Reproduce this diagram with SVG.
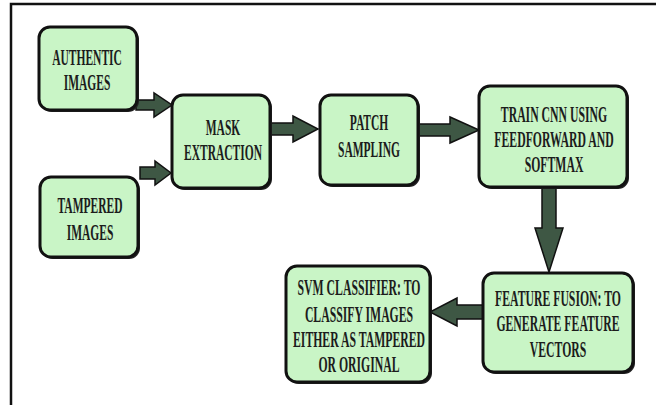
<svg xmlns="http://www.w3.org/2000/svg" width="656" height="405" viewBox="0 0 656 405">
  <defs>
    <style>
      .box { fill: #c9f5c6; stroke: #111; stroke-width: 3; }
      .shadow { fill: #222; }
      .arrow { fill: #3e5744; stroke: #111; stroke-width: 1.5; stroke-linejoin: miter; }
      .lbl { font-family: "Liberation Serif", "Times New Roman", serif; font-weight: bold; font-size: 24px; fill: #1c1c1c; text-anchor: middle; }
      .frame { stroke: #111; stroke-width: 2.5; fill: none; }
    </style>
  </defs>
  <rect width="656" height="405" fill="#ffffff"/>

  <!-- page frame (top and left rules) -->
  <path class="frame" d="M11,405 V4 H656"/>

  <!-- connectors: block arrows -->
  <g id="connectors">
    <polygon class="arrow" points="136,100 154,100 154,93 172,105 154,117 154,110 136,110"/>
    <polygon class="arrow" points="140,167 155,167 155,161 171,173 155,185 155,179 140,179"/>
    <polygon class="arrow" points="270,123 293,123 293,116 318,129 293,142 293,135 270,135"/>
    <polygon class="arrow" points="418,124 450,124 450,117 479,130 450,143 450,136 418,136"/>
    <polygon class="arrow" points="542,187 556,187 556,228 563,228 549,272 535,228 542,228"/>
    <polygon class="arrow" points="483,305 457,305 457,298 430,312 457,326 457,319 483,319"/>
  </g>

  <!-- labels use a condensed bold serif: glyphs squeezed horizontally -->
  <g id="authentic">
    <rect class="shadow" x="41" y="29" width="98" height="83" rx="11"/>
    <rect class="box" x="39" y="27" width="98" height="83" rx="11"/>
    <g transform="translate(87,0) scale(0.48,1)">
      <text class="lbl" x="0" y="65">AUTHENTIC</text>
      <text class="lbl" x="0" y="90">IMAGES</text>
    </g>
  </g>

  <g id="tampered">
    <rect class="shadow" x="42" y="179" width="98" height="80" rx="11"/>
    <rect class="box" x="40" y="177" width="98" height="80" rx="11"/>
    <g transform="translate(90,0) scale(0.48,1)">
      <text class="lbl" x="0" y="213">TAMPERED</text>
      <text class="lbl" x="0" y="240">IMAGES</text>
    </g>
  </g>

  <g id="mask">
    <rect class="shadow" x="174" y="97" width="98" height="93" rx="11"/>
    <rect class="box" x="172" y="95" width="98" height="93" rx="11"/>
    <g transform="translate(223,0) scale(0.48,1)">
      <text class="lbl" x="0" y="135">MASK</text>
      <text class="lbl" x="0" y="160">EXTRACTION</text>
    </g>
  </g>

  <g id="patch">
    <rect class="shadow" x="322" y="97" width="98" height="90" rx="11"/>
    <rect class="box" x="320" y="95" width="98" height="90" rx="11"/>
    <g transform="translate(369,0) scale(0.48,1)">
      <text class="lbl" x="0" y="130">PATCH</text>
      <text class="lbl" x="0" y="157">SAMPLING</text>
    </g>
  </g>

  <g id="train">
    <rect class="shadow" x="481" y="88" width="148" height="101" rx="11"/>
    <rect class="box" x="479" y="86" width="148" height="101" rx="11"/>
    <g transform="translate(554,0) scale(0.49,1)">
      <text class="lbl" x="0" y="122">TRAIN CNN USING</text>
      <text class="lbl" x="0" y="147">FEEDFORWARD AND</text>
      <text class="lbl" x="0" y="172">SOFTMAX</text>
    </g>
  </g>

  <g id="fusion">
    <rect class="shadow" x="485" y="275" width="150" height="99" rx="11"/>
    <rect class="box" x="483" y="273" width="150" height="99" rx="11"/>
    <g transform="translate(558,0) scale(0.49,1)">
      <text class="lbl" x="0" y="306">FEATURE FUSION: TO</text>
      <text class="lbl" x="0" y="331">GENERATE FEATURE</text>
      <text class="lbl" x="0" y="357">VECTORS</text>
    </g>
  </g>

  <g id="svm">
    <rect class="shadow" x="288" y="268" width="144" height="116" rx="11"/>
    <rect class="box" x="286" y="266" width="144" height="116" rx="11"/>
    <g transform="translate(359,0) scale(0.49,1)">
      <text class="lbl" x="0" y="295">SVM CLASSIFIER: TO</text>
      <text class="lbl" x="0" y="322">CLASSIFY IMAGES</text>
      <text class="lbl" x="0" y="347">EITHER AS TAMPERED</text>
      <text class="lbl" x="0" y="372">OR ORIGINAL</text>
    </g>
  </g>
</svg>
